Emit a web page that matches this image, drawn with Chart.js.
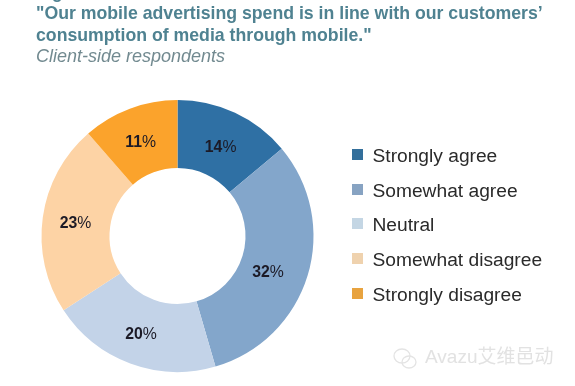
<!DOCTYPE html>
<html>
<head>
<meta charset="utf-8">
<script src="https://cdn.jsdelivr.net/npm/chart.js@4"></script>
<style>
  html, body { margin: 0; padding: 0; background: #fff; }
  body { width: 575px; height: 386px; position: relative; overflow: hidden; font-family: "Liberation Sans", sans-serif; }
  #wrap { position: absolute; left: 0; top: 0; width: 575px; height: 386px; }
  .title { position: absolute; left: 36px; font-size: 17.7px; line-height: 20px; font-weight: bold; color: #4f8291; white-space: nowrap; }
  .sub { position: absolute; left: 36px; top: 46px; font-size: 18px; line-height: 20px; font-style: italic; color: #728a90; white-space: nowrap; }
  #legend { position: absolute; left: 352px; top: 144px; }
  .item { position: absolute; left: 0; height: 20px; white-space: nowrap; font-size: 19.2px; line-height: 20px; color: #2a2a2a; }
  .item i { position: absolute; left: 0; top: 5px; width: 11px; height: 11px; }
  .item span { position: absolute; left: 20.5px; top: 2px; }
  #mark { position: absolute; left: 425px; top: 347px; font-size: 19px; line-height: 20px; color: #e2e2e2; white-space: nowrap; font-family: "Liberation Sans", "Noto Sans CJK SC", sans-serif; }
  #logo { position: absolute; left: 388px; top: 345px; }
</style>
</head>
<body>
<div id="wrap"><canvas id="donut" width="575" height="386"></canvas></div>
<div class="title" style="top:-18px">Figure</div>
<div class="title" style="top:3px">"Our mobile advertising spend is in line with our customers’</div>
<div class="title" style="top:25px">consumption of media through mobile."</div>
<div class="sub">Client-side respondents</div>
<div id="legend"></div>
<svg id="logo" width="34" height="26" viewBox="0 0 34 26" fill="none" stroke="#e4e4e4" stroke-width="1.3">
  <ellipse cx="14" cy="11" rx="8" ry="7"/>
  <ellipse cx="21" cy="17" rx="7" ry="6"/>
</svg>
<div id="mark">Avazu艾维邑动</div>
<script>
// slice sizes measured off the ring, printed labels are these rounded
const categories = ['Strongly agree', 'Somewhat agree', 'Neutral', 'Somewhat disagree', 'Strongly disagree'];
const shares = [13.9, 31.6, 20.3, 22.8, 11.4];
const sliceColors = ['#2f70a4', '#83a6cb', '#c3d3e8', '#fdd3a5', '#fba32c'];
const legendColors = ['#336f9b', '#87a3c2', '#c4d6e4', '#efd2ae', '#e8a33f'];
// the original nudges its labels away from the exact slice centre
const labelNudge = [[0, 4], [-7, 7], [-1, 3], [-1, 2], [-1, 2]];

// percent labels: bold digits, regular percent sign
const sliceLabels = {
    id: 'sliceLabels',
    afterDatasetsDraw(chart) {
        const ctx = chart.ctx;
        const arcs = chart.getDatasetMeta(0).data;
        const boldFont = 'bold 15.8px "Liberation Sans", sans-serif';
        const plainFont = '15.8px "Liberation Sans", sans-serif';
        ctx.save();
        ctx.fillStyle = '#1c1a26';
        ctx.textAlign = 'left';
        ctx.textBaseline = 'middle';
        arcs.forEach(function(arc, i) {
            const p = arc.getCenterPoint();
            const digits = String(Math.round(shares[i]));
            ctx.font = boldFont;
            const digitsWidth = ctx.measureText(digits).width;
            ctx.font = plainFont;
            const percentWidth = ctx.measureText('%').width;
            const x = p.x + labelNudge[i][0] - (digitsWidth + percentWidth) / 2;
            const y = p.y + labelNudge[i][1];
            ctx.font = boldFont;
            ctx.fillText(digits, x, y);
            ctx.font = plainFont;
            ctx.fillText('%', x + digitsWidth, y);
        });
        ctx.restore();
    }
};

new Chart(document.getElementById('donut').getContext('2d'), {
    type: 'doughnut',
    data: {
        labels: categories,
        datasets: [{
            data: shares,
            backgroundColor: sliceColors,
            borderWidth: 0
        }]
    },
    options: {
        responsive: false,
        animation: false,
        cutout: '50%',
        layout: { padding: { left: 41, top: 100, right: 261, bottom: 14 } },
        plugins: {
            legend: { display: false },
            tooltip: { enabled: false }
        }
    },
    plugins: [sliceLabels]
});

// legend on the right
const legend = document.getElementById('legend');
categories.forEach(function(name, i) {
    const row = document.createElement('div');
    row.className = 'item';
    row.style.top = (i * 34.7) + 'px';
    row.innerHTML = '<i style="background:' + legendColors[i] + '"></i><span>' + name + '</span>';
    legend.appendChild(row);
});
</script>
</body>
</html>
